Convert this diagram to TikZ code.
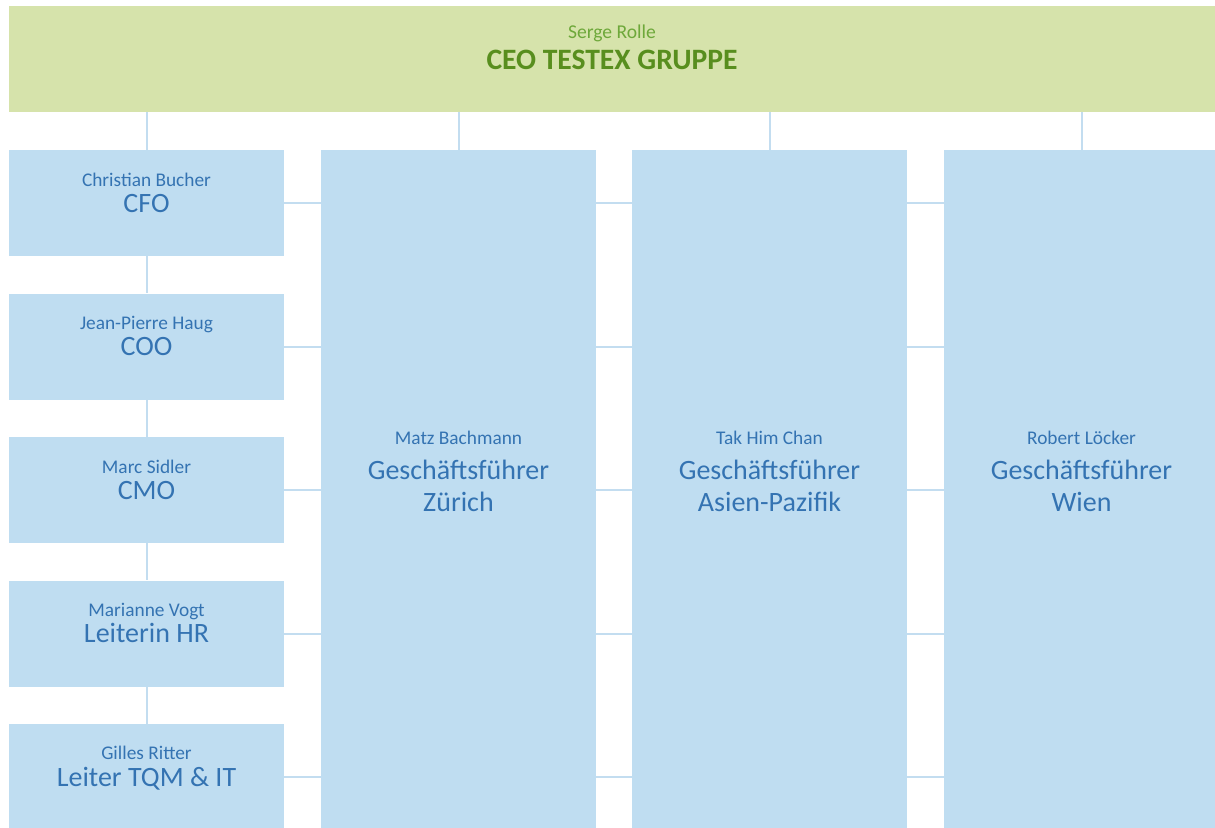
\documentclass[tikz,border=0pt]{standalone}
\usepackage{fontspec}
\setmainfont{Carlito}
\definecolor{topgreen}{RGB}{214,227,171}
\definecolor{namegreen}{RGB}{110,168,58}
\definecolor{titlegreen}{RGB}{88,142,30}
\definecolor{boxblue}{RGB}{191,221,241}
\definecolor{linkblue}{RGB}{195,221,240}
\definecolor{txtblue}{RGB}{52,115,178}

\begin{document}
\begin{tikzpicture}[x=0.75pt,y=-0.75pt,
        box/.style={fill=boxblue,inner sep=0pt,minimum width=206.25pt,minimum height=79.5pt},
        tallbox/.style={box,minimum height=508.5pt},
        who/.style={text=txtblue,font=\fontsize{14.5}{17}\selectfont,anchor=base,inner sep=0pt},
        role/.style={text=txtblue,font=\fontsize{21}{25}\selectfont,anchor=base,inner sep=0pt},
        link/.style={draw=linkblue,line width=1.5pt}]
    \useasboundingbox (0,0) rectangle (1215,828);

    % CEO
    \node[fill=topgreen,inner sep=0pt,minimum width=904.5pt,minimum height=79.5pt] (ceo) at (612,59) {};
    \node[who,text=namegreen,font=\fontsize{14.7}{17}\selectfont] (ceoname) at (612,38.5) {Serge Rolle};
    \node[role,text=titlegreen,font=\fontsize{22.2}{26}\selectfont\bfseries] (ceorole) at (612,69) {CEO TESTEX GRUPPE};

    % staff column
    \node[box] (cfo) at (146.5,203)   {};
    \node[box] (coo) at (146.5,346.5) {};
    \node[box] (cmo) at (146.5,490)   {};
    \node[box] (hr)  at (146.5,633.5) {};
    \node[box] (tqm) at (146.5,777)   {};

    \node[who]  (cfoname) at (146.5,186) {Christian Bucher};
    \node[role] (cforole) at (146.5,212) {CFO};
    \node[who]  (cooname) at (146.5,329.5) {Jean-Pierre Haug};
    \node[role] (coorole) at (146.5,355.5) {COO};
    \node[who]  (cmoname) at (146.5,473) {Marc Sidler};
    \node[role] (cmorole) at (146.5,499) {CMO};
    \node[who]  (hrname)  at (146.5,616.5) {Marianne Vogt};
    \node[role] (hrrole)  at (146.5,642.5) {Leiterin HR};
    \node[who]  (tqmname) at (146.5,759.5) {Gilles Ritter};
    \node[role] (tqmrole) at (146.5,786) {Leiter TQM \& IT};

    % regions
    \node[tallbox] (zh) at (458.5,489)  {};
    \node[tallbox] (ap) at (769.5,489)  {};
    \node[tallbox] (wi) at (1081.5,489) {};

    \node[who]  (zhname) at (458.5,444.5) {Matz Bachmann};
    \node[role] (zhrole) at (458.5,479) {Geschäftsführer};
    \node[role] (zhcity) at (458.5,511) {Zürich};
    \node[who]  (apname) at (769.5,444.5) {Tak Him Chan};
    \node[role] (aprole) at (769.5,479) {Geschäftsführer};
    \node[role] (apcity) at (769.5,511) {Asien-Pazifik};
    \node[who]  (winame) at (1081.5,444.5) {Robert Löcker};
    \node[role] (wirole) at (1081.5,479) {Geschäftsführer};
    \node[role] (wicity) at (1081.5,511) {Wien};

    % links
    \foreach \n in {cfo,zh,ap,wi}
        \draw[link] (ceo.south -| \n.north) -- (\n.north);
    \foreach \a/\b in {cfo/coo,coo/cmo,cmo/hr,hr/tqm}
        \draw[link] (\a.south) -- (\b.north);
    \foreach \n in {cfo,coo,cmo,hr,tqm} {
        \draw[link] (\n.east) -- (\n.east -| zh.west);
        \draw[link] (\n.east -| zh.east) -- (\n.east -| ap.west);
        \draw[link] (\n.east -| ap.east) -- (\n.east -| wi.west);
    }
\end{tikzpicture}
\end{document}
